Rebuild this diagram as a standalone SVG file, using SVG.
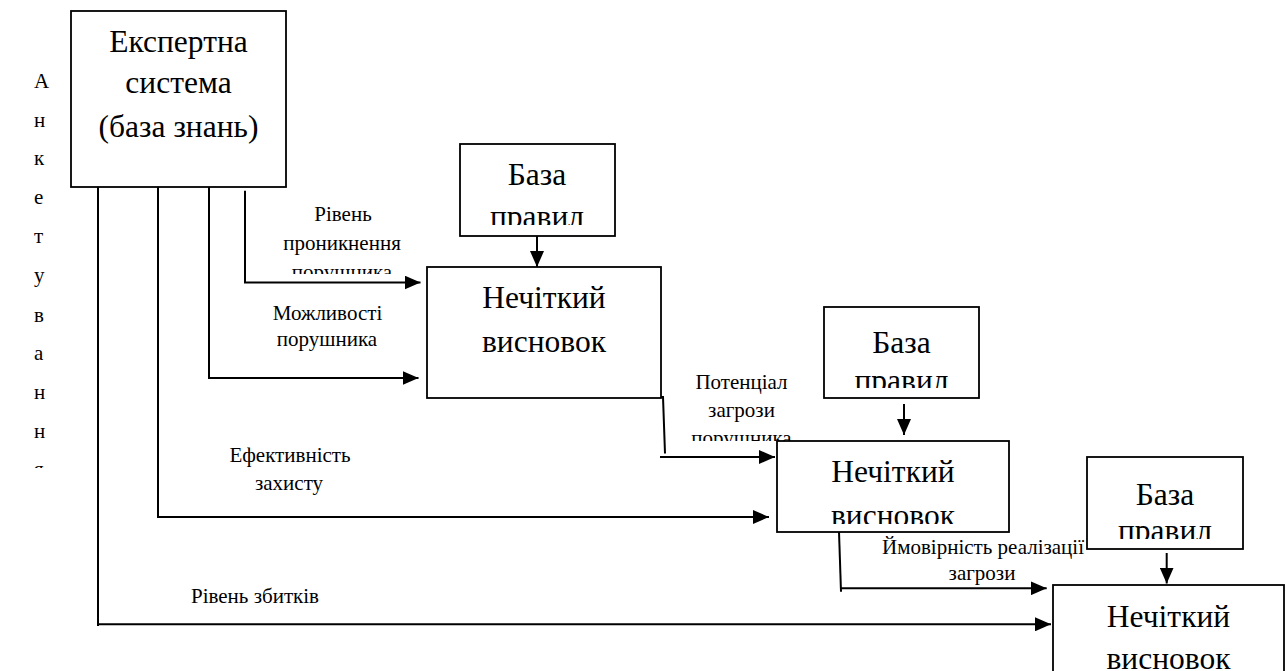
<svg xmlns="http://www.w3.org/2000/svg" width="1287" height="671" viewBox="0 0 1287 671">
<style>
.box{fill:#fff;stroke:#000;stroke-width:1.8}
.ln{fill:none;stroke:#000;stroke-width:2}
.arr{marker-end:url(#ah)}
text{font-family:"Liberation Serif","Times New Roman",serif;fill:#000}
.big{font-size:31.5px;text-anchor:middle}
.lbl{font-size:21px;text-anchor:middle}
.let{font-size:21px}
</style>
<defs>
<marker id="ah" markerUnits="userSpaceOnUse" markerWidth="16" markerHeight="14" refX="16" refY="7" orient="auto">
<path d="M0,0 L16,7 L0,14 z" fill="#000"/>
</marker>
<clipPath id="cLeft"><rect x="0" y="0" width="65" height="468"/></clipPath>
<clipPath id="cR1"><rect x="460" y="144" width="155" height="81"/></clipPath>
<clipPath id="cR2"><rect x="824" y="307" width="155" height="81"/></clipPath>
<clipPath id="cR3"><rect x="1087" y="457" width="156" height="82"/></clipPath>
<clipPath id="cF2"><rect x="777" y="441" width="232" height="83"/></clipPath>
<clipPath id="cL1"><rect x="230" y="190" width="200" height="84"/></clipPath>
<clipPath id="cL3"><rect x="670" y="360" width="150" height="81"/></clipPath>
</defs>

<g id="survey-label" clip-path="url(#cLeft)">
<text class="let" x="34" y="88.3">А</text>
<text class="let" x="34" y="126.7">н</text>
<text class="let" x="34" y="165">к</text>
<text class="let" x="34" y="204">е</text>
<text class="let" x="34" y="243">т</text>
<text class="let" x="34" y="282">у</text>
<text class="let" x="34" y="321.5">в</text>
<text class="let" x="34" y="360">а</text>
<text class="let" x="34" y="398.5">н</text>
<text class="let" x="34" y="438">н</text>
<text class="let" x="34" y="476">я</text>
</g>

<g id="connectors">
<path class="ln" d="M245,190.7 V282.5"/>
<path class="ln arr" d="M244,282.5 H420.5"/>
<path class="ln" d="M209,187 V378"/>
<path class="ln arr" d="M208,378 H418.5"/>
<path class="ln" d="M158,187 V517"/>
<path class="ln arr" d="M157,517 H769"/>
<path class="ln" d="M98,187 V626"/>
<path class="ln arr" d="M97,624.3 H1051"/>
<path class="ln" d="M661,397 L663,397 L665,453.5"/>
<path class="ln arr" d="M660,457 H775"/>
<path class="ln" d="M839,531.7 L841,591.7"/>
<path class="ln arr" d="M840,588.3 H1046.7"/>
<path class="ln arr" d="M537,236 V267"/>
<path class="ln arr" d="M904,404 V435"/>
<path class="ln arr" d="M1166.7,553 V583.5"/>

<g clip-path="url(#cL1)">
<text class="lbl" x="343" y="220.7">Рівень</text>
<text class="lbl" x="342" y="250">проникнення</text>
<text class="lbl" x="342" y="278.5">порушника</text>
</g>
<text class="lbl" x="327.5" y="320">Можливості</text>
<text class="lbl" x="327" y="346">порушника</text>
<g clip-path="url(#cL3)">
<text class="lbl" x="741.5" y="389.3">Потенціал</text>
<text class="lbl" x="741.5" y="416.7">загрози</text>
<text class="lbl" x="741.5" y="444.5">порушника</text>
</g>
<text class="lbl" x="290" y="461.7">Ефективність</text>
<text class="lbl" x="289" y="490">захисту</text>
<text class="lbl" x="255" y="602.7">Рівень збитків</text>
<text class="lbl" x="983" y="554">Ймовірність реалізації</text>
<text class="lbl" x="982" y="580">загрози</text>
</g>

<g id="expert-system">
<rect class="box" x="71" y="11" width="215" height="176"/>
<text class="big" x="178.5" y="52">Експертна</text>
<text class="big" x="178.5" y="93">система</text>
<text class="big" x="178.5" y="136.7">(база знань)</text>
</g>

<g id="rules-1">
<rect class="box" x="460" y="144" width="155" height="92"/>
<text class="big" x="537" y="185">База</text>
<text class="big" x="537" y="227" clip-path="url(#cR1)">правил</text>
</g>

<g id="fuzzy-1">
<rect class="box" x="427" y="267" width="234" height="131"/>
<text class="big" x="544" y="308">Нечіткий</text>
<text class="big" x="544" y="352">висновок</text>
</g>

<g id="rules-2">
<rect class="box" x="824" y="307" width="155" height="91"/>
<text class="big" x="901.5" y="353">База</text>
<text class="big" x="901.5" y="390.5" clip-path="url(#cR2)">правил</text>
</g>

<g id="fuzzy-2">
<rect class="box" x="777" y="441" width="232" height="91"/>
<text class="big" x="893" y="481.7">Нечіткий</text>
<text class="big" x="893" y="526" clip-path="url(#cF2)">висновок</text>
</g>

<g id="rules-3">
<rect class="box" x="1087" y="457" width="156" height="92"/>
<text class="big" x="1165" y="505">База</text>
<text class="big" x="1165" y="541" clip-path="url(#cR3)">правил</text>
</g>

<g id="fuzzy-3">
<rect class="box" x="1053" y="585" width="231" height="120"/>
<text class="big" x="1168.5" y="626.7">Нечіткий</text>
<text class="big" x="1168.5" y="669">висновок</text>
</g>
</svg>
